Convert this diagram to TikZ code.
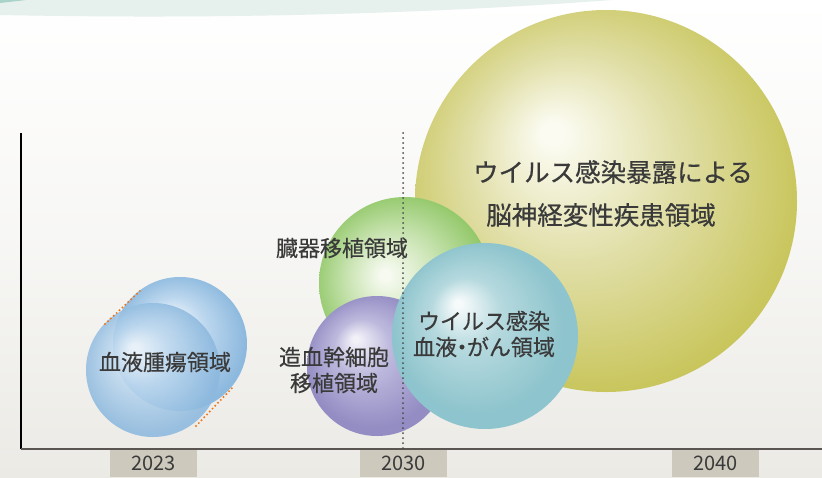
\documentclass[tikz,border=0pt]{standalone}
\usepackage{fontspec}
\setmainfont{Noto Sans CJK JP}[FakeBold=0.5]
\newfontfamily\yearfont{Noto Sans CJK JP}
\definecolor{bgbot}{HTML}{EBEAE5}
\definecolor{band}{HTML}{E6F0ED}
\definecolor{bandd}{HTML}{A9D2C9}
\definecolor{txt}{HTML}{3A3A3A}
\definecolor{yearbox}{HTML}{CDC9BD}
\definecolor{axisc}{HTML}{5A5550}
\definecolor{dotc}{HTML}{4A4A4A}
\definecolor{orangec}{HTML}{EE7418}
\definecolor{olhi}{HTML}{FBFBF1}
\definecolor{olmid}{HTML}{E0DEA5}
\definecolor{oled}{HTML}{C3C04C}
\definecolor{grhi}{HTML}{F6FAF0}
\definecolor{grmid}{HTML}{CAE4B3}
\definecolor{gred}{HTML}{88C35C}
\definecolor{puhi}{HTML}{F2F1F8}
\definecolor{pumid}{HTML}{BDB9DD}
\definecolor{pued}{HTML}{938DC3}
\definecolor{tehi}{HTML}{F6FAFB}
\definecolor{temid}{HTML}{B5D9DE}
\definecolor{teed}{HTML}{8EC4CD}
\definecolor{blhi}{HTML}{F0F6FB}
\definecolor{blmid}{HTML}{BCD7EE}
\definecolor{bled}{HTML}{8DB9DE}
\pgfdeclareradialshading{olsh}{\pgfpoint{-7.3bp}{9.3bp}}{color(0bp)=(olhi); color(1.5bp)=(olhi); color(14bp)=(olmid); color(30bp)=(oled); color(34bp)=(oled)}
\pgfdeclareradialshading{grsh}{\pgfpoint{-6bp}{2.5bp}}{color(0bp)=(grhi); color(1.5bp)=(grhi); color(13bp)=(grmid); color(28bp)=(gred); color(32bp)=(gred)}
\pgfdeclareradialshading{push}{\pgfpoint{-8bp}{10bp}}{color(0bp)=(puhi); color(1bp)=(puhi); color(10bp)=(pumid); color(24bp)=(pued); color(30bp)=(pued)}
\pgfdeclareradialshading{tesh}{\pgfpoint{-7.5bp}{9bp}}{color(0bp)=(tehi); color(1bp)=(tehi); color(9.5bp)=(temid); color(23bp)=(teed); color(30bp)=(teed)}
\pgfdeclareradialshading{blsh}{\pgfpoint{-7.5bp}{8.5bp}}{color(0bp)=(blhi); color(1.5bp)=(blhi); color(11.5bp)=(blmid); color(25bp)=(bled); color(30bp)=(bled)}
\pgfdeclareradialshading{blbsh}{\pgfpoint{-4bp}{9bp}}{color(0bp)=(blhi); color(2bp)=(blhi); color(12bp)=(blmid); color(25bp)=(bled); color(30bp)=(bled)}
\begin{document}
\begin{tikzpicture}[x=1pt,y=-1pt,
  ball/.style={circle, inner sep=0pt, shading=#1},
  lbl/.style={text=txt, align=center, inner sep=0pt, font=\fontsize{22}{26}\selectfont},
  biglbl/.style={text=txt, inner sep=0pt, font=\fontsize{25.5}{30}\selectfont},
  yearbx/.style={fill=yearbox, minimum width=87pt, minimum height=27pt, inner sep=0pt, text=txt, font=\yearfont\fontsize{20}{22}\selectfont},
  dotline/.style={dotc, line width=2pt, line cap=round, dash pattern=on 0pt off 5pt},
  odot/.style={orangec, line width=2.2pt, line cap=round, dash pattern=on 0pt off 4pt}]
\useasboundingbox (0,0) rectangle (822,477);
% background
\shade[top color=white, bottom color=bgbot, middle color=white!60!bgbot] (0,0) rectangle (822,477);
\fill[band] (0,0) -- (0,15) .. controls (250,20) and (450,12) .. (612,0) -- cycle;
\fill[bandd] (0,0) -- (0,3) .. controls (8,2) and (18,1) .. (26,0) -- cycle;
% axes
\coordinate (ytop) at (21,133);
\coordinate (orig) at (21,449);
\coordinate (xend) at (822,449);
% circles
\node[ball=olsh, minimum size=382pt] (olive) at (606,201) {};
\node[ball=grsh, minimum size=172pt] (green) at (405,283) {};
\node[ball=push, minimum size=140pt] (purple) at (377,366) {};
\node[ball=tesh, minimum size=186pt] (teal) at (485,336) {};
\node[ball=blbsh, minimum size=134pt] (blueback) at (180,344) {};
\node[ball=blsh, minimum size=134pt, opacity=0.88] (bluefront) at (153,370) {};
% orange dotted tangents
\coordinate (oa1) at (105,324);
\coordinate (oa2) at (142,289);
\coordinate (ob1) at (196,426);
\coordinate (ob2) at (234,386);
\draw[odot] (oa1) -- (oa2);
\draw[odot] (ob1) -- (ob2);
% axis lines
\draw[black, line width=1.2pt] (ytop) -- (orig);
\draw[axisc, line width=1.5pt] (orig) -- (xend);
% dotted 2030 line
\coordinate (dtop) at (403,133);
\coordinate (dbot) at (403,449);
\draw[dotline] (dtop) -- (dbot);
% labels
\node[biglbl] (big1) at (613,172) {ウイルス感染暴露による};
\node[biglbl] (big2) at (601,215) {脳神経変性疾患領域};
\node[lbl] (organ) at (342,248) {臓器移植領域};
\node[lbl] (stem) at (334,370) {造血幹細胞\\移植領域};
\node[lbl] (virus) at (484,334) {ウイルス感染\\血液\makebox[0.45em]{・}がん領域};
\node[lbl] (heme) at (165,362) {血液腫瘍領域};
% year boxes
\node[yearbx] (y2023) at (153.5,463.5) {2023};
\node[yearbx] (y2030) at (403.5,463.5) {2030};
\node[yearbx] (y2040) at (715.5,463.5) {2040};
\end{tikzpicture}
\end{document}
